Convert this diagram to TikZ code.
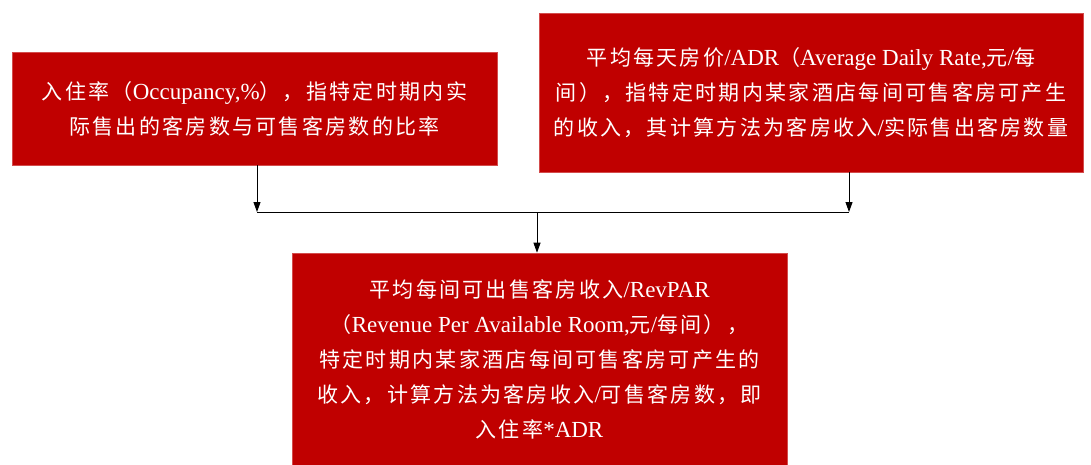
\documentclass[tikz,border=0pt]{standalone}
\usepackage{fontspec}
\usetikzlibrary{arrows.meta}
\newfontfamily\cjk{Noto Sans CJK SC}[LetterSpace=11]
\newfontfamily\lat{Liberation Serif}
\newcommand\LT[1]{{\lat\fontsize{23}{35}\selectfont #1}}
\definecolor{boxred}{RGB}{192,0,0}
\tikzset{
  redbox/.style={fill=boxred, draw=boxred!70!white, line width=0.6pt, text=white,
    align=center, inner sep=0pt, font=\cjk\fontsize{21}{35}\selectfont},
  link/.style={draw=black, line width=0.9pt},
  arrowlink/.style={link, -{Triangle[length=10pt,width=7pt]}}
}
\begin{document}
\begin{tikzpicture}[x=1pt,y=-1pt]
\useasboundingbox (0,0) rectangle (1091,464);
\node[redbox, minimum width=485pt, minimum height=113pt] (b1) at (254.5,108.5)
  {入住率（\LT{Occupancy,\%}），指特定时期内实\\际售出的客房数与可售客房数的比率};
\node[redbox, minimum width=544pt, minimum height=159pt] (b2) at (811,92.5)
  {平均每天房价\LT{/ADR}（\LT{Average Daily Rate,}元\LT{/}每\\间），指特定时期内某家酒店每间可售客房可产生\\的收入，其计算方法为客房收入\LT{/}实际售出客房数量};
\node[redbox, minimum width=495pt, minimum height=212pt] (b3) at (539.5,359)
  {平均每间可出售客房收入\LT{/RevPAR}\\（\LT{Revenue Per Available Room,}元\LT{/}每间），\\特定时期内某家酒店每间可售客房可产生的\\收入，计算方法为客房收入\LT{/}可售客房数，即\\入住率\LT{*ADR}};
\coordinate (jl) at (257,212);
\coordinate (jr) at (849,212);
\coordinate (jm) at (537,212);
\draw[arrowlink] (b1.south -| jl) -- (jl);
\draw[arrowlink] (b2.south -| jr) -- (jr);
\draw[link] (jl) -- (jr);
\draw[arrowlink] (jm) -- (b3.north -| jm);
\end{tikzpicture}
\end{document}
